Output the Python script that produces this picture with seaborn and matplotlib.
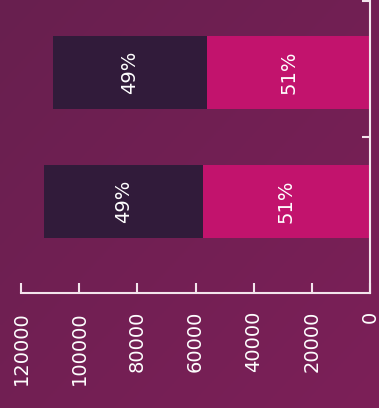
import numpy as np
import pandas as pd
import matplotlib
matplotlib.use("Agg")
import matplotlib.pyplot as plt
import seaborn as sns
from matplotlib.colors import LinearSegmentedColormap

# Two groups, each split into two shares
groups = ["Group 1", "Group 2"]
share_a = [56000, 57500]   # pink segment, starts at the zero line
share_b = [53000, 54600]   # dark segment, stacked beyond it
x_ticks = [0, 20000, 40000, 60000, 80000, 100000, 120000]

BG_TL = "#681f4f"
BG_BR = "#7c2058"
PINK = "#c2136d"
DARK = "#311b3a"
LINE = "#f3e4ec"

df = pd.DataFrame({"group": groups, "a": share_a, "b": share_b})
df["total"] = df["a"] + df["b"]

sns.set_theme(style="white")
plt.rcParams["font.family"] = ["DejaVu Sans"]

fig = plt.figure(figsize=(3.79, 4.08), dpi=100)

# soft diagonal background gradient
bg = fig.add_axes([0, 0, 1, 1], zorder=-10)
gy, gx = np.mgrid[0:1:200j, 0:1:200j]
grad = (gx + gy) / 2
cmap = LinearSegmentedColormap.from_list("bg", [BG_TL, BG_BR])
bg.imshow(grad, cmap=cmap, aspect="auto", extent=[0, 1, 0, 1], origin="upper")
bg.set_axis_off()

ax = fig.add_axes([21 / 379, 115 / 408, 349 / 379, 293 / 408])
ax.patch.set_alpha(0)

sns.barplot(data=df, y="group", x="total", orient="h", color=DARK,
            width=0.566, saturation=1, ax=ax, linewidth=0)
sns.barplot(data=df, y="group", x="a", orient="h", color=PINK,
            width=0.566, saturation=1, ax=ax, linewidth=0)

ax.set_xlim(120000, 0)
ax.set_ylim(1.709, -0.562)

# percentage labels inside each segment
for i, row in df.iterrows():
    pa = round(100 * row["a"] / row["total"])
    pb = round(100 * row["b"] / row["total"])
    ax.text(row["a"] / 2, i, f"{pa}%", rotation=90, ha="center", va="center",
            color="white", fontsize=14)
    ax.text(row["a"] + row["b"] / 2, i, f"{pb}%", rotation=90, ha="center",
            va="center", color="white", fontsize=14)

ax.set_xticks(x_ticks)
ax.set_xticklabels([str(v) for v in x_ticks], rotation=90, color="white",
                   fontsize=14)
ax.tick_params(axis="x", direction="in", length=7.5, width=1.5, color=LINE,
               pad=13, bottom=True)

ax.yaxis.tick_right()
ax.set_yticks([-0.555, 0.5])
ax.set_yticklabels([])
ax.tick_params(axis="y", direction="in", length=5.5, width=1.5, color=LINE,
               right=True, left=False)

ax.set_xlabel("")
ax.set_ylabel("")
for side in ["left", "top"]:
    ax.spines[side].set_visible(False)
for side in ["right", "bottom"]:
    ax.spines[side].set_visible(True)
    ax.spines[side].set_color(LINE)
    ax.spines[side].set_linewidth(1.5)
ax.grid(False)

fig.savefig("out.png", dpi=100)
